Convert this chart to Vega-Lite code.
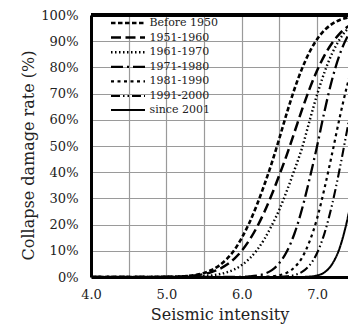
{
  "$schema": "https://vega.github.io/schema/vega-lite/v6.json",
  "width": 257,
  "height": 262,
  "autosize": {"type": "none"},
  "padding": {"left": 91, "top": 15, "right": 0, "bottom": 48},
  "background": "white",
  "config": {
    "view": {"stroke": null},
    "font": "DejaVu Serif",
    "axis": {"labelFont": "DejaVu Serif", "titleFont": "DejaVu Serif", "labelColor": "#222", "titleColor": "#222", "titleFontWeight": "normal"},
    "legend": {"labelFont": "DejaVu Serif"}
  },
  "data": {"values": [
    {"s":"Before 1950","x":4.0,"y":0},{"s":"Before 1950","x":4.5,"y":0},{"s":"Before 1950","x":5.0,"y":0.0005},{"s":"Before 1950","x":5.1,"y":0.0012},{"s":"Before 1950","x":5.2,"y":0.0024},{"s":"Before 1950","x":5.3,"y":0.0047},{"s":"Before 1950","x":5.4,"y":0.0087},{"s":"Before 1950","x":5.5,"y":0.0154},{"s":"Before 1950","x":5.6,"y":0.0268},{"s":"Before 1950","x":5.7,"y":0.0436},{"s":"Before 1950","x":5.8,"y":0.0681},{"s":"Before 1950","x":5.9,"y":0.102},{"s":"Before 1950","x":6.0,"y":0.1492},{"s":"Before 1950","x":6.1,"y":0.2061},{"s":"Before 1950","x":6.2,"y":0.2743},{"s":"Before 1950","x":6.3,"y":0.352},{"s":"Before 1950","x":6.4,"y":0.4364},{"s":"Before 1950","x":6.5,"y":0.53},{"s":"Before 1950","x":6.6,"y":0.6274},{"s":"Before 1950","x":6.7,"y":0.7174},{"s":"Before 1950","x":6.8,"y":0.7953},{"s":"Before 1950","x":6.9,"y":0.8588},{"s":"Before 1950","x":7.0,"y":0.9074},{"s":"Before 1950","x":7.1,"y":0.9424},{"s":"Before 1950","x":7.2,"y":0.966},{"s":"Before 1950","x":7.3,"y":0.981},{"s":"Before 1950","x":7.4,"y":0.99},{"s":"Before 1950","x":7.5,"y":0.995},
    {"s":"1951-1960","x":4.0,"y":0},{"s":"1951-1960","x":5.0,"y":0.0005},{"s":"1951-1960","x":5.1,"y":0.001},{"s":"1951-1960","x":5.2,"y":0.002},{"s":"1951-1960","x":5.3,"y":0.0037},{"s":"1951-1960","x":5.4,"y":0.0066},{"s":"1951-1960","x":5.5,"y":0.0113},{"s":"1951-1960","x":5.6,"y":0.0188},{"s":"1951-1960","x":5.7,"y":0.0301},{"s":"1951-1960","x":5.8,"y":0.0465},{"s":"1951-1960","x":5.9,"y":0.0694},{"s":"1951-1960","x":6.0,"y":0.1003},{"s":"1951-1960","x":6.1,"y":0.1401},{"s":"1951-1960","x":6.2,"y":0.1894},{"s":"1951-1960","x":6.3,"y":0.2483},{"s":"1951-1960","x":6.4,"y":0.3156},{"s":"1951-1960","x":6.5,"y":0.3897},{"s":"1951-1960","x":6.6,"y":0.4681},{"s":"1951-1960","x":6.7,"y":0.553},{"s":"1951-1960","x":6.8,"y":0.639},{"s":"1951-1960","x":6.9,"y":0.718},{"s":"1951-1960","x":7.0,"y":0.788},{"s":"1951-1960","x":7.1,"y":0.847},{"s":"1951-1960","x":7.2,"y":0.893},{"s":"1951-1960","x":7.3,"y":0.929},{"s":"1951-1960","x":7.4,"y":0.954},{"s":"1951-1960","x":7.5,"y":0.972},
    {"s":"1961-1970","x":4.0,"y":0},{"s":"1961-1970","x":5.0,"y":0},{"s":"1961-1970","x":5.2,"y":0.0004},{"s":"1961-1970","x":5.3,"y":0.0008},{"s":"1961-1970","x":5.4,"y":0.0016},{"s":"1961-1970","x":5.5,"y":0.0032},{"s":"1961-1970","x":5.6,"y":0.0059},{"s":"1961-1970","x":5.7,"y":0.0104},{"s":"1961-1970","x":5.8,"y":0.0179},{"s":"1961-1970","x":5.9,"y":0.0287},{"s":"1961-1970","x":6.0,"y":0.0455},{"s":"1961-1970","x":6.1,"y":0.0694},{"s":"1961-1970","x":6.2,"y":0.102},{"s":"1961-1970","x":6.3,"y":0.1446},{"s":"1961-1970","x":6.4,"y":0.1977},{"s":"1961-1970","x":6.5,"y":0.2578},{"s":"1961-1970","x":6.6,"y":0.33},{"s":"1961-1970","x":6.7,"y":0.409},{"s":"1961-1970","x":6.8,"y":0.492},{"s":"1961-1970","x":6.9,"y":0.596},{"s":"1961-1970","x":7.0,"y":0.696},{"s":"1961-1970","x":7.1,"y":0.783},{"s":"1961-1970","x":7.2,"y":0.854},{"s":"1961-1970","x":7.3,"y":0.907},{"s":"1961-1970","x":7.4,"y":0.945},{"s":"1961-1970","x":7.5,"y":0.969},
    {"s":"1971-1980","x":4.0,"y":0},{"s":"1971-1980","x":5.5,"y":0},{"s":"1971-1980","x":5.8,"y":0.0001},{"s":"1971-1980","x":5.9,"y":0.0002},{"s":"1971-1980","x":6.0,"y":0.0006},{"s":"1971-1980","x":6.1,"y":0.0019},{"s":"1971-1980","x":6.2,"y":0.0049},{"s":"1971-1980","x":6.3,"y":0.0119},{"s":"1971-1980","x":6.4,"y":0.0262},{"s":"1971-1980","x":6.5,"y":0.0537},{"s":"1971-1980","x":6.6,"y":0.0985},{"s":"1971-1980","x":6.7,"y":0.166},{"s":"1971-1980","x":6.8,"y":0.2594},{"s":"1971-1980","x":6.9,"y":0.3745},{"s":"1971-1980","x":7.0,"y":0.5},{"s":"1971-1980","x":7.1,"y":0.635},{"s":"1971-1980","x":7.2,"y":0.755},{"s":"1971-1980","x":7.3,"y":0.849},{"s":"1971-1980","x":7.4,"y":0.916},{"s":"1971-1980","x":7.5,"y":0.958},
    {"s":"1981-1990","x":4.0,"y":0},{"s":"1981-1990","x":5.8,"y":0},{"s":"1981-1990","x":6.1,"y":0.0001},{"s":"1981-1990","x":6.2,"y":0.0002},{"s":"1981-1990","x":6.3,"y":0.0008},{"s":"1981-1990","x":6.4,"y":0.0023},{"s":"1981-1990","x":6.5,"y":0.0066},{"s":"1981-1990","x":6.6,"y":0.0162},{"s":"1981-1990","x":6.7,"y":0.0367},{"s":"1981-1990","x":6.8,"y":0.0735},{"s":"1981-1990","x":6.9,"y":0.1357},{"s":"1981-1990","x":7.0,"y":0.2236},{"s":"1981-1990","x":7.1,"y":0.3409},{"s":"1981-1990","x":7.2,"y":0.4721},{"s":"1981-1990","x":7.3,"y":0.609},{"s":"1981-1990","x":7.4,"y":0.732},{"s":"1981-1990","x":7.5,"y":0.833},
    {"s":"1991-2000","x":4.0,"y":0},{"s":"1991-2000","x":6.2,"y":0},{"s":"1991-2000","x":6.4,"y":0.0002},{"s":"1991-2000","x":6.5,"y":0.0007},{"s":"1991-2000","x":6.6,"y":0.0025},{"s":"1991-2000","x":6.7,"y":0.0073},{"s":"1991-2000","x":6.8,"y":0.0192},{"s":"1991-2000","x":6.9,"y":0.0446},{"s":"1991-2000","x":7.0,"y":0.0918},{"s":"1991-2000","x":7.1,"y":0.1685},{"s":"1991-2000","x":7.2,"y":0.2776},{"s":"1991-2000","x":7.3,"y":0.4129},{"s":"1991-2000","x":7.4,"y":0.5636},{"s":"1991-2000","x":7.5,"y":0.7123},
    {"s":"since 2001","x":4.0,"y":0},{"s":"since 2001","x":6.5,"y":0},{"s":"since 2001","x":6.7,"y":0.0001},{"s":"since 2001","x":6.8,"y":0.0003},{"s":"since 2001","x":6.9,"y":0.0015},{"s":"since 2001","x":7.0,"y":0.0059},{"s":"since 2001","x":7.1,"y":0.0183},{"s":"since 2001","x":7.2,"y":0.0495},{"s":"since 2001","x":7.3,"y":0.1112},{"s":"since 2001","x":7.4,"y":0.2177},{"s":"since 2001","x":7.5,"y":0.3632}
  ]},
  "layer": [
    {
      "mark": {"type": "line", "clip": true, "interpolate": "monotone", "color": "black"},
      "encoding": {
        "x": {"field": "x", "type": "quantitative",
          "scale": {"domain": [4, 7.41], "nice": false, "zero": false},
          "axis": {"values": [4, 4.5, 5, 5.5, 6, 6.5, 7], "labelExpr": "datum.value % 1 == 0 ? format(datum.value, '.1f') : ''",
            "grid": true, "gridColor": "#9a9a9a", "gridWidth": 1.2, "ticks": false, "domainColor": "black", "domainWidth": 3,
            "labelFontSize": 13, "labelPadding": 11, "labelFlush": false,
            "title": "Seismic intensity", "titleFontSize": 16, "titlePadding": 5}},
        "y": {"field": "y", "type": "quantitative",
          "scale": {"domain": [0, 1], "nice": false},
          "axis": {"values": [0, 0.1, 0.2, 0.3, 0.4, 0.5, 0.6, 0.7, 0.8, 0.9, 1], "format": ".0%",
            "grid": true, "gridColor": "#9a9a9a", "gridWidth": 1.2, "ticks": false, "domainColor": "black", "domainWidth": 3,
            "labelFontSize": 13, "labelPadding": 13, "labelFlush": false, "labelOverlap": false,
            "title": "Collapse damage rate (%)", "titleFontSize": 16, "titleX": -63, "titleY": 140, "titleAngle": 270, "titleBaseline": "middle", "titleAlign": "center"}},
        "strokeDash": {"field": "s", "type": "nominal",
          "scale": {"domain": ["Before 1950", "1951-1960", "1961-1970", "1971-1980", "1981-1990", "1991-2000", "since 2001"],
            "range": [[4.5, 2.5], [10, 4.5], [1.5, 2.5], [12, 4, 2, 4], [3, 3.5], [9, 3, 1.5, 3, 1.5, 3], [1, 0]]},
          "legend": {"title": null, "orient": "none", "legendX": 30.5, "legendY": 1.5, "padding": 0,
            "symbolType": "M-3.4,0H3.4", "symbolSize": 100, "symbolStrokeColor": "black", "symbolFillColor": "transparent",
            "labelFont": "DejaVu Serif", "labelFontSize": 11, "labelColor": "#222", "labelOffset": 15, "rowPadding": 2.6}},
        "strokeWidth": {"field": "s", "type": "nominal",
          "scale": {"domain": ["Before 1950", "1951-1960", "1961-1970", "1971-1980", "1981-1990", "1991-2000", "since 2001"],
            "range": [2.6, 2, 1.6, 1.8, 3, 1.2, 2]},
          "legend": null}
      }
    },
    {
      "mark": {"type": "rule", "color": "black", "strokeWidth": 3},
      "encoding": {"y": {"datum": 1, "type": "quantitative",
          "axis": {"values": [0, 0.1, 0.2, 0.3, 0.4, 0.5, 0.6, 0.7, 0.8, 0.9, 1], "format": ".0%",
            "grid": true, "gridColor": "#9a9a9a", "gridWidth": 1.2, "ticks": false, "domainColor": "black", "domainWidth": 3,
            "labelFontSize": 13, "labelPadding": 13, "labelFlush": false, "labelOverlap": false,
            "title": "Collapse damage rate (%)", "titleFontSize": 16, "titleX": -63, "titleY": 140, "titleAngle": 270, "titleBaseline": "middle", "titleAlign": "center"}}}
    }
  ]
}
